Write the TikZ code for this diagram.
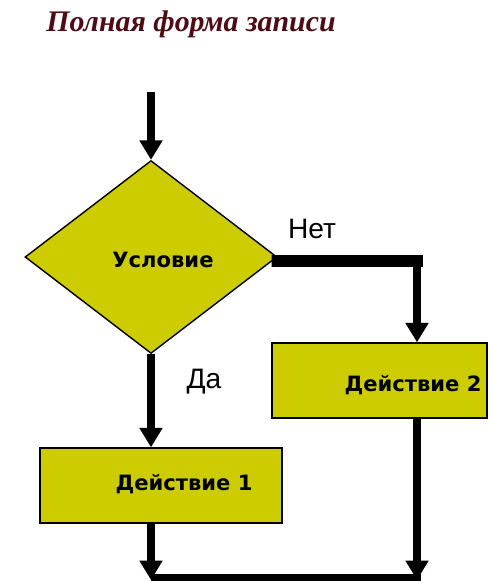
\documentclass[tikz,border=0pt]{standalone}
\usepackage{fontspec}
\setmainfont{Liberation Serif}
\setsansfont{DejaVu Sans}
\newfontfamily\yesnofont{Liberation Sans}
\usetikzlibrary{shapes.geometric,arrows.meta}
\definecolor{boxfill}{RGB}{204,204,0}
\definecolor{titlered}{RGB}{80,10,20}

\begin{document}
\begin{tikzpicture}[x=0.02cm, y=-0.02cm,
    block/.style={draw=black, line width=0.8pt, fill=boxfill, minimum height=1.5cm, inner sep=0pt},
    cond/.style={diamond, draw=black, line width=0.8pt, fill=boxfill,
      minimum width=5.04cm, minimum height=3.86cm, inner sep=0pt},
    boxtext/.style={font=\sffamily\bfseries\fontsize{12}{14}\selectfont},
    yesno/.style={font=\yesnofont\fontsize{16}{18}\selectfont},
    flow/.style={line width=4.4pt, -{Triangle[width=12.5pt,length=11pt]}},
    bar/.style={line width=6.8pt}]
    \useasboundingbox (0,0) rectangle (491,581);
    \node[font=\bfseries\itshape\fontsize{17}{20}\selectfont, text=titlered] (title) at (191,24)
      {Полная форма записи};
    \node[cond, label={[boxtext, xshift=0.24cm, yshift=-0.06cm]center:Условие}] (test) at (151,257) {};
    \node[block, minimum width=4.84cm, label={[boxtext, xshift=0.46cm, yshift=0.02cm]center:Действие 1}]
      (act1) at (161,485.5) {};
    \node[block, minimum width=4.3cm, label={[boxtext, xshift=0.67cm, yshift=-0.09cm]center:Действие 2}]
      (act2) at (379.5,380.5) {};
    \node[yesno] (no) at (312,229) {Нет};
    \node[yesno] (yes) at (204,382) {Да};
    \coordinate (start) at (151,92);
    \coordinate (turn) at (417,261);
    \coordinate (join1) at (151,580);
    \coordinate (join2) at (417,580);
    \draw[flow] (start) -- (test.north);
    \draw[bar, line cap=rect] ([yshift=-0.08cm]test.east) -- (turn);
    \draw[flow] (turn) -- (turn |- act2.north);
    \draw[flow] (test.south) -- (test.south |- act1.north);
    \draw[flow] (join1 |- act1.south) -- (join1);
    \draw[flow] (turn |- act2.south) -- (join2);
    \draw[bar] (join1) -- ([xshift=0.08cm]join2);
  \end{tikzpicture}
\end{document}
